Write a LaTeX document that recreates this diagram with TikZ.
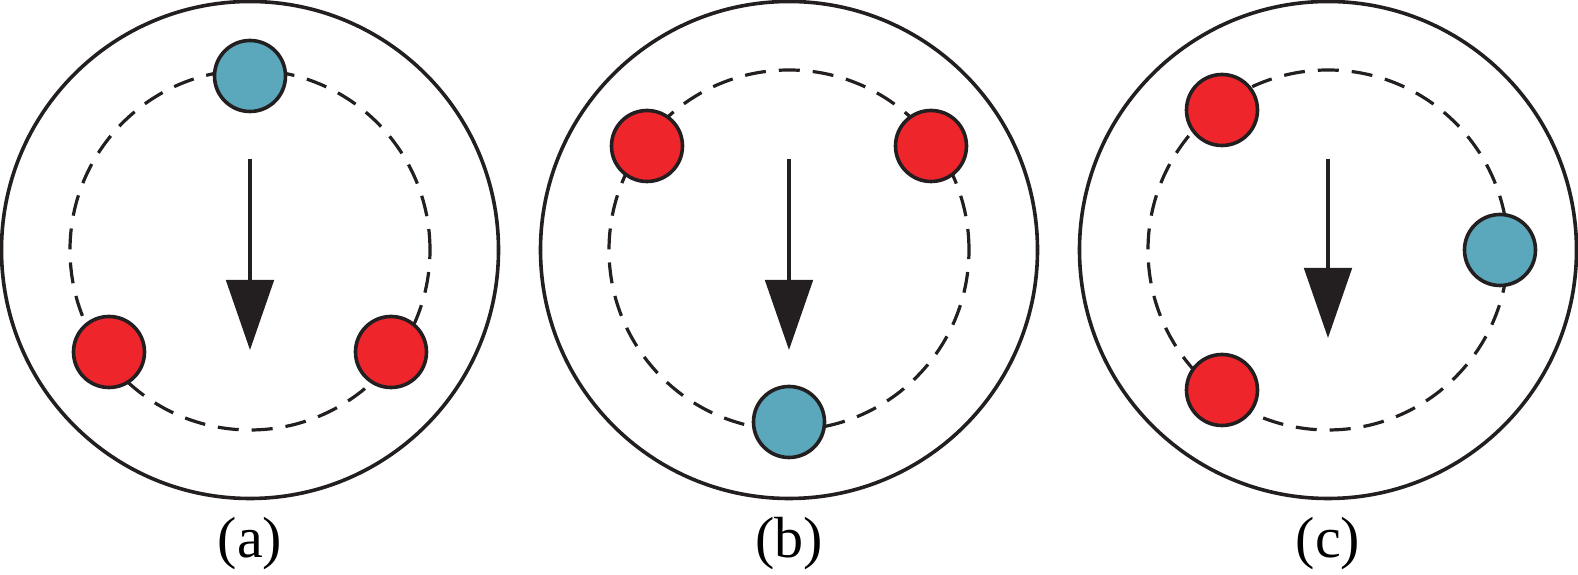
\documentclass[tikz,border=0pt]{standalone}
\usepackage{fontspec}
\setmainfont{Liberation Serif}
\usepackage{tikz}
\usetikzlibrary{arrows.meta}
\definecolor{ink}{HTML}{231F20}
\definecolor{ballred}{HTML}{EE262C}
\definecolor{ballblue}{HTML}{5BA8BC}

\begin{document}
\begin{tikzpicture}[
        rim/.style={draw=ink, line width=0.036cm},
        orbit/.style={draw=ink, line width=0.032cm, dash pattern=on 0.21cm off 0.13cm},
        ball/.style={draw=ink, circle, line width=0.036cm, minimum size=0.71cm, inner sep=0pt},
        redball/.style={ball, fill=ballred},
        blueball/.style={ball, fill=ballblue},
        pull/.style={draw=ink, line width=0.034cm, -{Triangle[length=0.7cm, width=0.475cm]}},
        caption/.style={inner sep=0pt, font=\fontsize{16.5}{19}\selectfont}
    ]
            \useasboundingbox (0, 0) rectangle (15.78, 5.75);
            \coordinate (ca) at (2.50, 3.25);
            \draw[rim] (ca) circle (2.485);
            \draw[orbit] (ca) circle (1.80);
            \node[blueball] (a1) at (2.50, 4.99) {};
            \node[redball] (a2) at (1.09, 2.23) {};
            \node[redball] (a3) at (3.91, 2.23) {};
            \coordinate (a-top) at (2.50, 4.16);
            \coordinate (a-tip) at (2.50, 2.25);
            \draw[pull] (a-top) -- (a-tip);
            \node[caption] (la) at (2.50, 0.31) {(a)};
            \coordinate (cb) at (7.89, 3.25);
            \draw[rim] (cb) circle (2.485);
            \draw[orbit] (cb) circle (1.80);
            \node[redball] (b1) at (6.47, 4.29) {};
            \node[redball] (b2) at (9.31, 4.29) {};
            \node[blueball] (b3) at (7.89, 1.53) {};
            \coordinate (b-top) at (7.89, 4.16);
            \coordinate (b-tip) at (7.89, 2.25);
            \draw[pull] (b-top) -- (b-tip);
            \node[caption] (lb) at (7.89, 0.31) {(b)};
            \coordinate (cc) at (13.28, 3.25);
            \draw[rim] (cc) circle (2.485);
            \draw[orbit] (cc) circle (1.80);
            \node[redball] (c1) at (12.22, 4.65) {};
            \node[blueball] (c2) at (15.00, 3.25) {};
            \node[redball] (c3) at (12.22, 1.85) {};
            \coordinate (c-top) at (13.28, 4.16);
            \coordinate (c-tip) at (13.28, 2.37);
            \draw[pull] (c-top) -- (c-tip);
            \node[caption] (lc) at (13.28, 0.31) {(c)};
        \end{tikzpicture}
\end{document}
